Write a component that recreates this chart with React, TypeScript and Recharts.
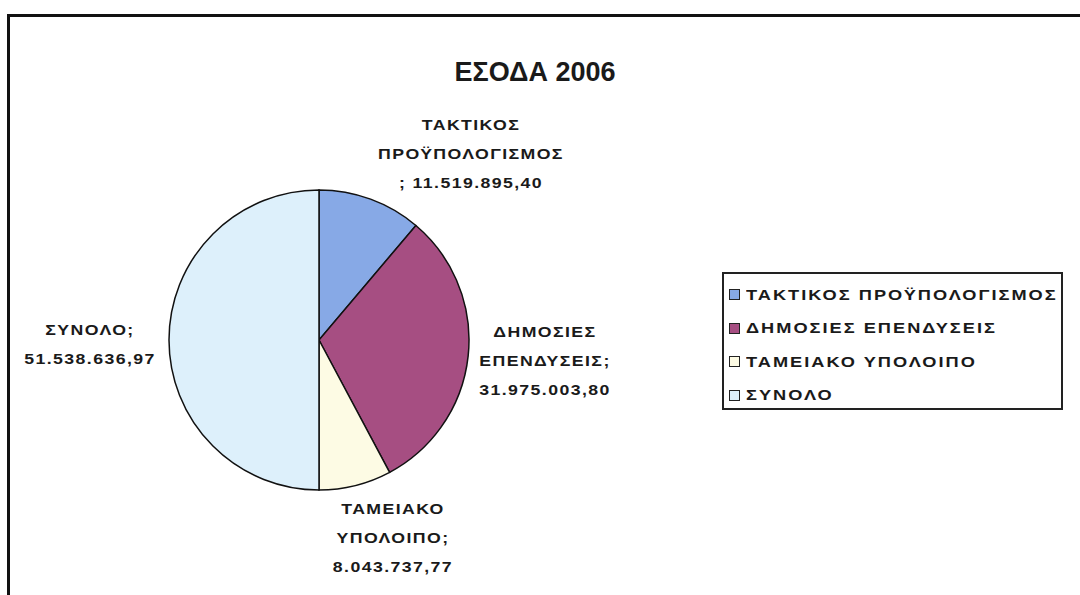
import { PieChart, Pie, Cell, Legend } from "recharts";

// Έσοδα 2006 – τιμές από το διάγραμμα
const categories = [
  "ΤΑΚΤΙΚΟΣ ΠΡΟΫΠΟΛΟΓΙΣΜΟΣ",
  "ΔΗΜΟΣΙΕΣ ΕΠΕΝΔΥΣΕΙΣ",
  "ΤΑΜΕΙΑΚΟ ΥΠΟΛΟΙΠΟ",
  "ΣΥΝΟΛΟ",
];
const values = [11519895.4, 31975003.8, 8043737.77, 51538636.97];

// πώς σπάει κάθε ετικέτα σε γραμμές (η τιμή μπαίνει στην τελευταία)
const labelLines = [
  ["ΤΑΚΤΙΚΟΣ", "ΠΡΟΫΠΟΛΟΓΙΣΜΟΣ", "; "],
  ["ΔΗΜΟΣΙΕΣ", "ΕΠΕΝΔΥΣΕΙΣ;", ""],
  ["ΤΑΜΕΙΑΚΟ", "ΥΠΟΛΟΙΠΟ;", ""],
  ["ΣΥΝΟΛΟ;", ""],
];

const colors = ["#87a9e6", "#a64e82", "#fdfbe4", "#ddf0fb"];

// θέση ετικέτας ως προς το κέντρο της πίτας
const labelOffsets = [
  { dx: 152, dy: -186 },
  { dx: 226, dy: 21 },
  { dx: 74, dy: 198 },
  { dx: -229, dy: 4 },
];

const data = categories.map((name, i) => ({ name, value: values[i] }));

const formatGr = (v: number) => {
  const [int, dec] = v.toFixed(2).split(".");
  return int.replace(/\B(?=(\d{3})+(?!\d))/g, ".") + "," + dec;
};

const FONT = "'Liberation Sans', Arial, sans-serif";
const STRETCH = 1.18; // το σκαναρισμένο κείμενο είναι πλατύτερο

const renderLabel = ({ cx, cy, index, value }: any) => {
  const lines = labelLines[index].slice();
  lines[lines.length - 1] = lines[lines.length - 1] + formatGr(value);
  const off = labelOffsets[index];
  const lh = 29;
  const x = cx + off.dx;
  const y0 = cy + off.dy - ((lines.length - 1) * lh) / 2;
  return (
    <text
      x={x}
      y={y0}
      textAnchor="middle"
      fontFamily={FONT}
      fontSize={15}
      fontWeight="bold"
      letterSpacing={1.2}
      fill="#1a1a1a"
      transform={`matrix(${STRETCH},0,0,1,${(1 - STRETCH) * x},0)`}
    >
      {lines.map((l, k) => (
        <tspan key={k} x={x} y={y0 + k * lh} dominantBaseline="central">
          {l}
        </tspan>
      ))}
    </text>
  );
};

const LegendBox = () => (
  <div
    style={{
      border: "2px solid #222",
      background: "#fff",
      padding: "4px 0 0 5px",
      boxSizing: "border-box",
      width: 341,
      height: 138,
      fontFamily: FONT,
    }}
  >
    {categories.map((c, i) => (
      <div
        key={c}
        style={{
          display: "flex",
          alignItems: "center",
          height: 33.5,
          fontSize: 14.5,
          fontWeight: "bold",
          letterSpacing: 1.6,
          whiteSpace: "nowrap",
          color: "#1a1a1a",
        }}
      >
        <span
          style={{
            width: 9,
            height: 9,
            border: "1.5px solid #222",
            background: colors[i],
            marginRight: 6,
            display: "inline-block",
            flexShrink: 0,
          }}
        />
        <span style={{ display: "inline-block", transform: "scaleX(1.255)", transformOrigin: "left center" }}>
          {c}
        </span>
      </div>
    ))}
  </div>
);

export default function App() {
  return (
    <div style={{ position: "relative", width: 1080, height: 595, background: "#fff" }}>
      <style>{"body{margin:0}"}</style>
      <div
        style={{
          position: "absolute",
          left: 7,
          top: 14,
          right: 0,
          bottom: 0,
          borderTop: "3px solid #111",
          borderLeft: "3px solid #111",
        }}
      />
      <div
        style={{
          position: "absolute",
          left: 0,
          top: 57,
          width: 1070,
          textAlign: "center",
          fontFamily: FONT,
          fontSize: 27,
          fontWeight: "bold",
          color: "#1a1a1a",
        }}
      >
        ΕΣΟΔΑ 2006
      </div>
      <div style={{ position: "absolute", left: 0, top: 0 }}>
        <PieChart width={1080} height={595} margin={{ top: 0, right: 0, bottom: 0, left: 0 }}>
          <Pie
            data={data}
            dataKey="value"
            nameKey="name"
            cx={319}
            cy={340}
            outerRadius={150}
            startAngle={90}
            endAngle={-270}
            stroke="#111"
            strokeWidth={1.5}
            labelLine={false}
            label={renderLabel}
            isAnimationActive={false}
          >
            {data.map((d, i) => (
              <Cell key={d.name} fill={colors[i]} />
            ))}
          </Pie>
          <Legend
            content={<LegendBox />}
            wrapperStyle={{ left: 722, top: 272, width: 341, height: 138 }}
          />
        </PieChart>
      </div>
    </div>
  );
}
